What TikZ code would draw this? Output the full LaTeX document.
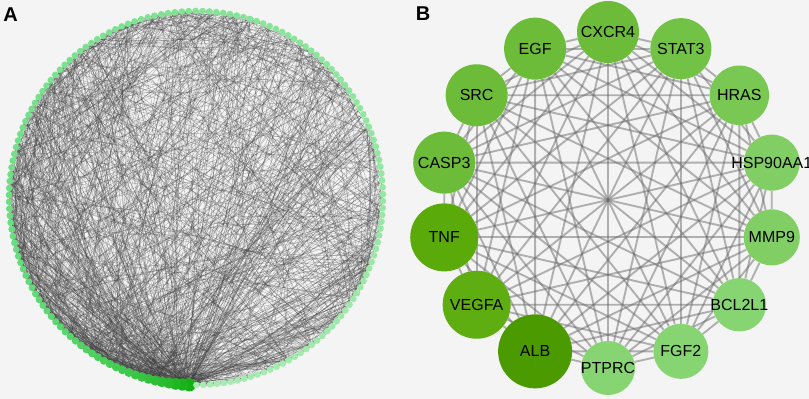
\documentclass[tikz,border=0pt]{standalone}
\usepackage{fontspec}
\setmainfont{Liberation Sans}
\pgfdeclarelayer{back}
\pgfdeclarelayer{bg}
\pgfsetlayers{back,bg,main}
\definecolor{bgc}{HTML}{F4F4F4}
\definecolor{darkA}{HTML}{12B012}
\definecolor{midA}{HTML}{5EDC78}
\definecolor{lightA}{HTML}{A8ECB2}
\definecolor{cALB}{HTML}{4A9A00}
\definecolor{cTNF}{HTML}{5AAA0A}
\definecolor{cVEG}{HTML}{5EAE12}
\definecolor{cMid}{HTML}{6CBC3A}
\definecolor{cSTA}{HTML}{72C246}
\definecolor{cHRA}{HTML}{79C854}
\definecolor{cHSP}{HTML}{80CE64}
\definecolor{cLow}{HTML}{87D472}
\tikzset{
  anode/.style={circle, inner sep=0pt, draw=none},
  aedge/.style={draw=black!75, opacity=0.38, line width=0.42pt},
  bnode/.style={circle, inner sep=0pt, draw=none},
  blabel/.style={text=black, font=\fontsize{16}{18}\selectfont, inner sep=0pt},
  bedge/.style={draw=black!58, opacity=0.5, line width=1.9pt},
  panel/.style={font=\fontsize{20}{22}\selectfont\bfseries}
}
\begin{document}
\begin{tikzpicture}[x=1pt,y=-1pt]
\useasboundingbox (0,0) rectangle (809,399);
\begin{pgfonlayer}{back}
\fill[bgc] (0,0) rectangle (809,399);
\end{pgfonlayer}
\node[panel] (labA) at (10.5,15) {A};
\node[panel] (labB) at (423,14) {B};
% ---------- Panel A ----------
\def\N{170}
\pgfmathsetmacro{\stepang}{360/\N}
\foreach \k in {1,...,\N}{
  \pgfmathsetmacro{\ang}{-92-(\k-1)*\stepang}
  \pgfmathsetmacro{\px}{196+187*cos(\ang)}
  \pgfmathsetmacro{\py}{198-187*sin(\ang)}
  \pgfmathsetmacro{\rr}{3.3+3.2*exp(-min((\k-1)/9,8))}
  \pgfmathtruncatemacro{\pd}{100*exp(-min((\k-1)/12,8))}
  \pgfmathtruncatemacro{\pl}{100*((\k-1)/(\N-1))}
  \colorlet{basec}{lightA!\pl!midA}
  \colorlet{nodec}{darkA!\pd!basec}
  \node[anode, minimum size=2*\rr, fill=nodec] (a\k) at (\px,\py) {};
}
\pgfmathsetseed{11}
\begin{pgfonlayer}{bg}
\foreach \e in {1,...,1200}{
  \pgfmathsetmacro{\ua}{rnd}
  \pgfmathsetmacro{\ub}{rnd}
  \pgfmathtruncatemacro{\ea}{1+int(\N*\ua*\ua*(0.5+0.5*\ua))}
  \pgfmathtruncatemacro{\eb}{1+int(\N*\ub*(0.7+0.3*\ub))}
  \ifnum\ea=\eb \pgfmathtruncatemacro{\eb}{mod(\eb,\N)+1}\fi
  \pgfmathsetmacro{\bnd}{(rnd-0.5)*26}
  \draw[aedge] (a\ea) to[bend left=\bnd] (a\eb);
}
\end{pgfonlayer}
% ---------- Panel B ----------
\foreach \nm/\r/\c [count=\k from 0] in {CXCR4/31/cMid, STAT3/30.5/cSTA, HRAS/29.7/cHRA, HSP90AA1/28/cHSP, MMP9/28/cHSP, BCL2L1/26.7/cLow, FGF2/27.5/cLow, PTPRC/27/cLow, ALB/37/cALB, VEGFA/34/cVEG, TNF/34/cTNF, CASP3/31/cMid, SRC/31/cMid, EGF/31/cMid}{
  \pgfmathsetmacro{\ang}{90-\k*(360/14)}
  \pgfmathsetmacro{\px}{608+168*cos(\ang)}
  \pgfmathsetmacro{\py}{200-168*sin(\ang)}
  \node[bnode, minimum size=2*\r, fill=\c, label={[blabel]center:\nm}] (b\k) at (\px,\py) {};
}
\begin{pgfonlayer}{bg}
\foreach \k in {0,...,12}{
  \pgfmathtruncatemacro{\kk}{\k+1}
  \foreach \m in {\kk,...,13}{
    \draw[bedge] (b\k) -- (b\m);
  }
}
\end{pgfonlayer}
\end{tikzpicture}
\end{document}
